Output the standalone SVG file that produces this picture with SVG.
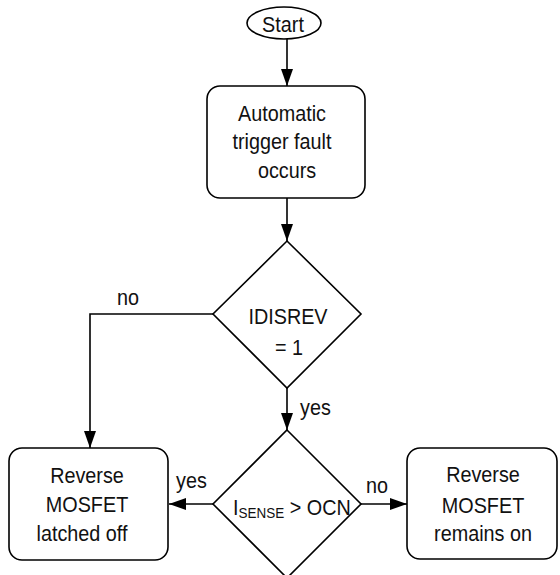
<svg xmlns="http://www.w3.org/2000/svg" width="560" height="575" viewBox="0 0 560 575">
<defs>
<marker id="ah" markerWidth="17" markerHeight="12" refX="17" refY="6" viewBox="0 0 17 12" markerUnits="userSpaceOnUse" orient="auto">
<path d="M0,0 L17,6 L0,12 Z" fill="#000"/>
</marker>
<style>
.s{fill:#fff;stroke:#000;stroke-width:1.6}
.t{font-family:"Liberation Sans",Arial,sans-serif;font-size:22px;fill:#111;text-anchor:middle}
.l{font-family:"Liberation Sans",Arial,sans-serif;font-size:22px;fill:#111}
.c{fill:none;stroke:#000;stroke-width:1.6}
</style>
</defs>
<rect width="560" height="575" fill="#fff"/>
<g id="connectors">
<line class="c" x1="287" y1="39" x2="287" y2="86" marker-end="url(#ah)"/>
<line class="c" x1="287" y1="198" x2="287" y2="241" marker-end="url(#ah)"/>
<polyline class="c" points="214,314 90,314 90,448" marker-end="url(#ah)"/>
<line class="c" x1="287" y1="388" x2="287" y2="430" marker-end="url(#ah)"/>
<line class="c" x1="213" y1="504" x2="169" y2="504" marker-end="url(#ah)"/>
<line class="c" x1="361" y1="504" x2="407" y2="504" marker-end="url(#ah)"/>
<text class="l" transform="matrix(0.9 0 0 1 117 0)" x="0" y="305">no</text>
<text class="l" transform="matrix(0.9 0 0 1 300 0)" x="0" y="415">yes</text>
<text class="l" transform="matrix(0.9 0 0 1 176 0)" x="0" y="488">yes</text>
<text class="l" transform="matrix(0.9 0 0 1 366 0)" x="0" y="493">no</text>
</g>
<g id="start">
<ellipse class="s" cx="284" cy="23" rx="37" ry="16"/>
<text class="t" transform="matrix(0.9 0 0 1 283 0)" x="0" y="32">Start</text>
</g>
<g id="fault">
<rect class="s" x="207" y="86" width="158" height="112" rx="13"/>
<text class="t" transform="matrix(0.9 0 0 1 282 0)" x="0" y="121">Automatic</text>
<text class="t" transform="matrix(0.9 0 0 1 282 0)" x="0" y="149">trigger fault</text>
<text class="t" transform="matrix(0.9 0 0 1 287 0)" x="0" y="178">occurs</text>
</g>
<g id="idisrev">
<polygon class="s" points="287,241 361,314 287,388 213,314"/>
<text class="t" transform="matrix(0.9 0 0 1 288 0)" x="0" y="324">IDISREV</text>
<text class="t" transform="matrix(0.9 0 0 1 289 0)" x="0" y="355">= 1</text>
</g>
<g id="isense">
<polygon class="s" points="287,430 361,504 287,578 213,504"/>
<text class="l" transform="matrix(0.9 0 0 1 233 0)" x="0" y="515">I<tspan font-size="15" dy="3">SENSE</tspan><tspan dy="-3"> &gt; OCN</tspan></text>
</g>
<g id="latched">
<rect class="s" x="9" y="448" width="159" height="112" rx="13"/>
<text class="t" transform="matrix(0.9 0 0 1 87 0)" x="0" y="483">Reverse</text>
<text class="t" transform="matrix(0.9 0 0 1 87 0)" x="0" y="512">MOSFET</text>
<text class="t" transform="matrix(0.9 0 0 1 82 0)" x="0" y="541">latched off</text>
</g>
<g id="remains">
<rect class="s" x="407" y="448" width="150" height="111" rx="13"/>
<text class="t" transform="matrix(0.9 0 0 1 483 0)" x="0" y="482">Reverse</text>
<text class="t" transform="matrix(0.9 0 0 1 483 0)" x="0" y="513">MOSFET</text>
<text class="t" transform="matrix(0.9 0 0 1 483 0)" x="0" y="541">remains on</text>
</g>
</svg>
